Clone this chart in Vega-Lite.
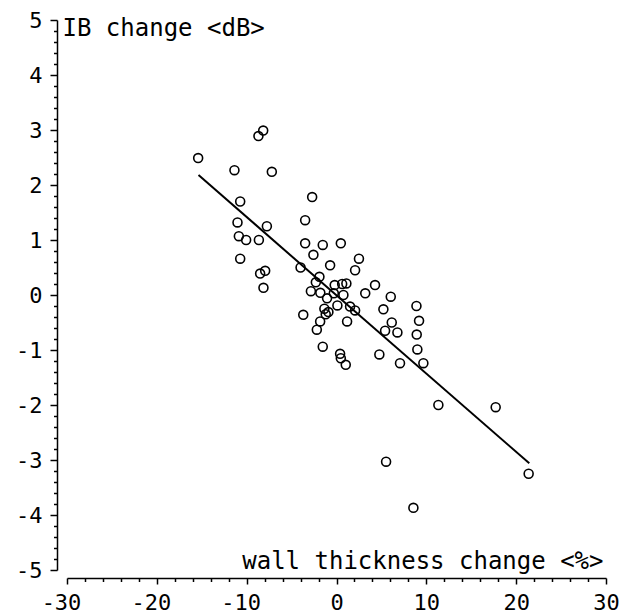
{
  "$schema": "https://vega.github.io/schema/vega-lite/v6.json",
  "width": 539,
  "height": 550,
  "autosize": {"type": "none"},
  "padding": {"left": 67, "top": 20, "right": 24, "bottom": 44},
  "background": "white",
  "config": {
    "view": {"stroke": null},
    "axis": {
      "grid": false,
      "domainColor": "black",
      "domainWidth": 1.5,
      "tickColor": "black",
      "tickWidth": 1.5,
      "labelColor": "black",
      "labelFont": "DejaVu Sans Mono",
      "labelFontSize": 22,
      "titleFont": "DejaVu Sans Mono",
      "titleFontSize": 24,
      "titleFontWeight": "normal",
      "titleColor": "black"
    }
  },
  "layer": [
    {
      "data": {
        "values": [
          {"x": -15.4, "y": 2.49}, {"x": -8.69, "y": 2.89}, {"x": -8.16, "y": 2.99},
          {"x": -11.36, "y": 2.27}, {"x": -7.2, "y": 2.24}, {"x": -10.72, "y": 1.7},
          {"x": -11.02, "y": 1.32}, {"x": -7.75, "y": 1.25}, {"x": -10.87, "y": 1.07},
          {"x": -10.06, "y": 1.0}, {"x": -8.64, "y": 1.0}, {"x": -10.72, "y": 0.66},
          {"x": -8.5, "y": 0.39}, {"x": -7.94, "y": 0.44}, {"x": -8.13, "y": 0.13},
          {"x": -2.71, "y": 1.78}, {"x": -3.49, "y": 1.36}, {"x": -3.49, "y": 0.94},
          {"x": -2.57, "y": 0.73}, {"x": -4.0, "y": 0.5}, {"x": -1.53, "y": 0.91},
          {"x": 0.48, "y": 0.94}, {"x": 2.5, "y": 0.66}, {"x": -0.71, "y": 0.54},
          {"x": 2.07, "y": 0.45}, {"x": -1.9, "y": 0.33}, {"x": -2.3, "y": 0.23},
          {"x": -0.2, "y": 0.18}, {"x": 0.63, "y": 0.2}, {"x": 1.1, "y": 0.21},
          {"x": 4.29, "y": 0.18}, {"x": -2.85, "y": 0.07}, {"x": -1.8, "y": 0.04},
          {"x": -0.3, "y": 0.03}, {"x": 0.77, "y": 0.0}, {"x": 3.2, "y": 0.03},
          {"x": -1.05, "y": -0.06}, {"x": 6.04, "y": -0.03}, {"x": 8.9, "y": -0.2},
          {"x": 0.1, "y": -0.19}, {"x": 1.51, "y": -0.21}, {"x": 5.22, "y": -0.26},
          {"x": 2.07, "y": -0.28}, {"x": -1.35, "y": -0.25}, {"x": -0.9, "y": -0.31},
          {"x": -1.2, "y": -0.35}, {"x": -3.7, "y": -0.36}, {"x": -1.82, "y": -0.48},
          {"x": -2.19, "y": -0.63}, {"x": 1.18, "y": -0.48}, {"x": 6.15, "y": -0.5},
          {"x": 5.41, "y": -0.65}, {"x": 6.78, "y": -0.68}, {"x": 9.19, "y": -0.47},
          {"x": 8.93, "y": -0.72}, {"x": 9.0, "y": -0.99}, {"x": 9.67, "y": -1.24},
          {"x": 7.07, "y": -1.24}, {"x": 4.77, "y": -1.08}, {"x": -1.53, "y": -0.94},
          {"x": 0.4, "y": -1.07}, {"x": 0.48, "y": -1.15}, {"x": 1.03, "y": -1.27},
          {"x": 11.34, "y": -2.0}, {"x": 17.72, "y": -2.04}, {"x": 5.52, "y": -3.03},
          {"x": 21.39, "y": -3.25}, {"x": 8.56, "y": -3.87}
        ]
      },
      "mark": {"type": "point", "shape": "circle", "filled": false, "stroke": "black", "strokeWidth": 1.6, "size": 80, "opacity": 1},
      "encoding": {
        "x": {
          "field": "x", "type": "quantitative",
          "scale": {"domain": [-30, 30], "nice": false, "zero": false},
          "axis": {
            "orient": "bottom",
            "offset": 8,
            "values": [-30, -20, -10, 0, 10, 20, 30],
            "tickSize": 6,
            "labelPadding": 8,
            "labelFlush": false,
            "labelOverlap": false,
            "labelExpr": "datum.value < 0 ? '-' + abs(datum.value) : '' + datum.value",
            "labelOffset": {"condition": {"test": "datum.value < 0", "value": -6}, "value": 0},
            "title": "wall thickness change <%>",
            "titleX": 536,
            "titleY": -10,
            "titleAlign": "right",
            "titleBaseline": "alphabetic",
            "titleAnchor": null
          }
        },
        "y": {
          "field": "y", "type": "quantitative",
          "scale": {"domain": [-5, 5], "nice": false, "zero": false},
          "axis": {
            "orient": "left",
            "offset": 10,
            "values": [-5, -4, -3, -2, -1, 0, 1, 2, 3, 4, 5],
            "tickSize": 7,
            "labelPadding": 8,
            "labelFlush": false,
            "labelOverlap": false,
            "labelExpr": "datum.value < 0 ? '-' + abs(datum.value) : '' + datum.value",
            "title": "IB change <dB>",
            "titleAngle": 0,
            "titleX": 5,
            "titleY": 15,
            "titleAlign": "left",
            "titleBaseline": "alphabetic",
            "titleAnchor": null
          }
        }
      }
    },
    {
      "data": {
        "values": [
          {"x": -15.36, "y": 2.18},
          {"x": 21.46, "y": -3.06}
        ]
      },
      "mark": {"type": "line", "color": "black", "strokeWidth": 2},
      "encoding": {
        "x": {
          "field": "x", "type": "quantitative",
          "axis": {
            "orient": "bottom",
            "offset": 8,
            "domain": false,
            "labels": false,
            "title": null,
            "tickSize": 3.5,
            "values": [-28, -26, -24, -22, -18, -16, -14, -12, -8, -6, -4, -2, 2, 4, 6, 8, 12, 14, 16, 18, 22, 24, 26, 28]
          }
        },
        "y": {
          "field": "y", "type": "quantitative",
          "axis": {
            "orient": "left",
            "offset": 10,
            "domain": false,
            "labels": false,
            "title": null,
            "tickSize": 3.5,
            "values": [-4.8, -4.6, -4.4, -4.2, -3.8, -3.6, -3.4, -3.2, -2.8, -2.6, -2.4, -2.2, -1.8, -1.6, -1.4, -1.2, -0.8, -0.6, -0.4, -0.2, 0.2, 0.4, 0.6, 0.8, 1.2, 1.4, 1.6, 1.8, 2.2, 2.4, 2.6, 2.8, 3.2, 3.4, 3.6, 3.8, 4.2, 4.4, 4.6, 4.8]
          }
        }
      }
    }
  ],
  "resolve": {"axis": {"x": "independent", "y": "independent"}}
}
